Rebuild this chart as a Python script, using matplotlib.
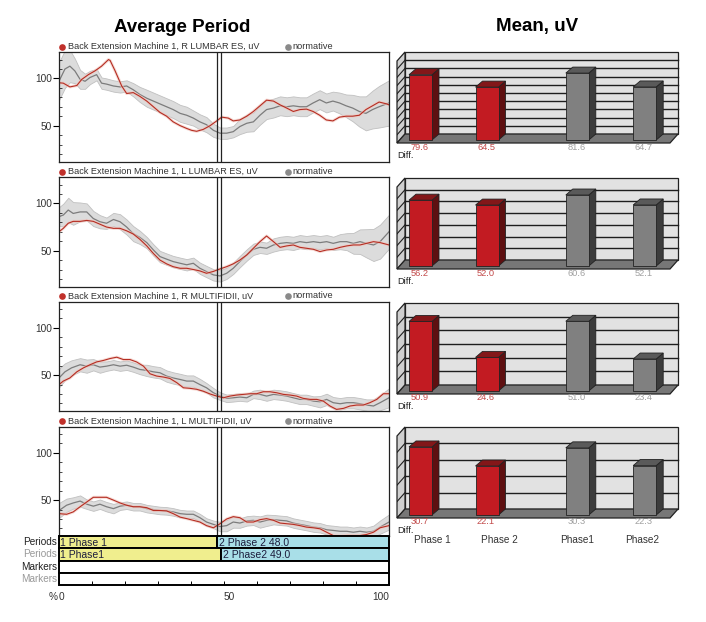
import matplotlib
matplotlib.use('Agg')
import matplotlib.pyplot as plt
from matplotlib.patches import Polygon, Rectangle
from matplotlib.lines import Line2D
import numpy as np

# ---------------- data ----------------
titles = ["Average Period", "Mean, uV"]
channel_labels = [
    "Back Extension Machine 1, R LUMBAR ES, uV",
    "Back Extension Machine 1, L LUMBAR ES, uV",
    "Back Extension Machine 1, R MULTIFIDII, uV",
    "Back Extension Machine 1, L MULTIFIDII, uV",
]
normative_label = "normative"

S = [6.4, 8.4, 10.4, 12.4, 14.4, 16.5, 18.5, 20.5, 22.5, 24.5, 26.6, 28.6, 30.6, 32.6, 34.6,
     36.7, 38.7, 40.7, 42.7, 44.7, 46.8, 48.8, 50.8, 52.8, 54.8, 56.9, 58.9, 60.9, 62.9, 65.0,
     67.0, 69.0, 71.0, 73.0, 75.0, 77.1, 79.1, 81.1, 83.1, 85.2, 87.2, 89.2, 91.2, 93.2, 95.3, 97.3]
S3 = [3.3, 5.4, 7.4, 9.4, 11.4, 13.4, 15.5, 17.5, 19.5, 21.5, 23.5, 25.6, 27.6, 29.6, 31.6, 33.6,
      35.7, 37.7, 39.7, 41.7, 43.7, 45.8, 47.8, 49.8, 51.8, 53.8, 55.9, 57.9, 59.9, 61.9, 63.9,
      66.0, 68.0, 70.0, 72.0, 74.0, 76.1, 78.1, 80.1, 82.1, 84.1, 86.2, 88.2, 90.2, 92.2, 94.2,
      96.3, 98.3]

# panel 1 (R LUMBAR ES)
red1_x = [0, 1.3, 3.3, 5.4, 6.9, 8.9, 10.9, 12.9, 15.0, 15.5, 17.0, 19.0, 20.5, 22.5, 24.5, 26.6,
          28.6, 30.6, 32.6, 34.6, 36.7, 38.7, 40.2, 41.7, 43.7, 45.8, 47.8, 49.3, 51.3, 52.8, 54.8,
          56.9, 58.9, 60.9, 62.9, 65.0, 67.0, 69.0, 71.0, 73.0, 75.0, 77.0, 79.0, 81.0, 83.0, 85.0,
          87.0, 89.0, 91.0, 93.0, 95.0, 97.0, 99.3, 100]
red1_v = [95.4, 95, 91, 92.5, 99, 104, 108, 113, 120, 119, 108, 92, 84, 85, 81, 76, 70, 64, 60, 54,
          50, 47, 45, 44, 46, 50, 55, 59, 58, 55, 56, 60, 65, 71, 77, 76, 72, 68.6, 65, 67, 67.5, 65,
          61, 56, 55, 59, 60, 60, 61, 67, 71, 75, 73, 72]
gray1_x = [0, 1.8, 3.3, 4.8, 6.4, 7.9, 9.4, 11.4, 12.9, 14.4, 16.5, 18.5, 20.5, 22.5, 24.5, 26.6,
           28.6, 30.6, 32.6, 34.6, 36.7, 38.7, 40.7, 42.7, 44.7, 46.8, 48.8, 50.8, 52.8, 54.8, 56.9,
           58.9, 60.9, 62.9, 65.0, 67.0, 69.0, 71.0, 73.0, 75.0, 77.0, 79.0, 81.0, 83.0, 85.0, 87.0,
           89.0, 91.0, 93.0, 95.0, 97.0, 100]
gray1_v = [97, 110, 113, 108, 99, 97, 101, 104, 95, 94, 92, 91, 92, 88, 83, 79, 76, 73, 70, 67, 63,
           61, 58, 54, 51, 45, 42, 42, 43.6, 49, 52.5, 54, 61, 67, 68.6, 71, 70, 71, 70, 70, 74, 77.5,
           74, 76, 74, 71, 68.6, 65, 63, 67, 70, 74]
spread1 = [20, 20, 17, 13, 10, 8, 7, 6, 6, 6, 6, 6, 6, 7, 8, 9, 9, 9, 9, 9, 9, 9, 8, 8, 8, 7, 6, 6,
           6, 8, 9, 10, 10, 10, 10, 10, 10, 10, 10, 10, 10, 10, 10, 10, 11, 12, 14, 16, 18, 20, 22, 24]

# panel 2 (L LUMBAR ES)
red2_x = [0, 1.3, 2.8, 4.3, 6.4, 8.4, 10.4, 12.4, 14.4, 16.5, 18.5, 20.5, 22.5, 24.5, 26.6, 28.6,
          30.6, 32.6, 34.6, 36.7, 38.7, 40.7, 42.7, 44.7, 46.8, 48.3, 50.8, 52.8, 54.8, 56.9, 58.9,
          60.9, 62.9, 65.0, 67.0, 69.0, 71.0, 73.0, 75.0, 77.1, 79.1, 81.1, 83.1, 85.2, 87.2, 89.2,
          91.2, 93.2, 95.3, 97.3, 100]
red2_v = [70, 73.6, 79, 81, 81, 82, 81, 78, 75, 73.6, 73.6, 71, 67.6, 62, 55, 47, 40, 36, 33, 31.3,
          31.3, 30, 28.5, 26, 28, 30, 33, 36, 40, 45.4, 52.5, 59.5, 65.5, 59.5, 53.5, 55, 56, 53.5,
          52.5, 51.4, 49, 50.7, 51.4, 53.5, 55, 56, 56, 57.7, 59.5, 58.5, 56]
gray2_x = [0, 1.3, 2.8, 4.3] + S + [100]
gray2_v = [86, 87.7, 93, 89.4, 91, 91, 84, 80.6, 79, 83, 80.6, 75, 68, 64, 58.5, 50.7, 43.7, 41,
           38.4, 36.6, 35, 36.6, 31.3, 27.8, 24.3, 23.2, 26, 31.3, 38.4, 45.4, 51.4, 53.5, 52.5, 56,
           57.7, 58.5, 57.7, 59.5, 58.5, 59.5, 58.5, 59.5, 57.7, 59.5, 59.5, 57.7, 59.5, 57.7, 56,
           59.5, 70]
spread2 = [10, 12, 13, 12, 10, 9, 8, 7, 6, 7, 8, 8, 8, 7, 6, 6, 6, 6, 6, 6, 6, 6, 6, 6, 6, 6, 6, 6,
           6, 6, 6, 6, 6, 7, 7, 7, 7, 7, 7, 7, 7, 7, 7, 8, 9, 11, 13, 15, 17, 18, 18]

# panel 3 (R MULTIFIDII)
red3_x = [0, 1.3] + S3 + [100]
red3_v = [40, 43.7, 47, 53.5, 57.7, 61, 64, 65.5, 67.6, 69, 66.5, 66.5, 64, 59.5, 51.4, 49, 48,
          46.5, 42, 36.6, 36, 35, 33, 30, 27.8, 26, 27.8, 28.9, 29.6, 30.3, 30.3, 32.4, 32.4, 31.3,
          29.6, 28.9, 27.8, 25.4, 24.3, 24.3, 22.5, 17.3, 13.7, 14.8, 17.3, 18.3, 18.3, 20.8, 24.3,
          30.3, 30.3]
gray3_x = [0, 1.8, 3.8] + S + [100]
gray3_v = [47, 53.5, 57.7, 61, 59.5, 61, 58.5, 59.5, 61, 59.5, 60.5, 58.5, 56, 55, 53.5, 52.5, 49,
           47, 45.4, 43.7, 43.7, 40, 36.6, 31.3, 27.8, 25.4, 26, 26.8, 26, 29.6, 29.6, 27.8, 29.6,
           28.9, 27.8, 26, 24.3, 24.3, 22.5, 21.8, 24.3, 20.8, 19.7, 20.8, 20.8, 19.7, 18.3, 17.3,
           20.8, 26]
spread3 = [10, 9, 8, 7, 7, 6, 6, 5, 5, 5, 5, 5, 5, 6, 6, 6, 6, 6, 6, 6, 6, 6, 5, 5, 4, 4, 4, 4, 4,
           4, 5, 5, 5, 5, 5, 5, 5, 5, 5, 6, 6, 6, 6, 6, 6, 6, 6, 7, 8, 10]

# panel 4 (L MULTIFIDII)
red4_x = [0, 2.3, 4.3] + S + [100]
red4_v = [35.7, 35, 37.5, 43, 48, 53, 53, 53, 50, 47, 44.6, 43, 43, 42, 39, 39, 38.6, 35.7, 32,
          30.4, 28.6, 26.8, 23, 20.7, 25, 30, 32.5, 31.4, 26.8, 26.8, 29.3, 30.4, 28.6, 25.7, 25,
          24.3, 23, 21.4, 20.7, 19.6, 16, 12.5, 11.8, 12.5, 12.5, 12.5, 13.6, 16, 20.7, 23]
gray4_x = [0, 2.3, 4.3] + S + [100]
gray4_v = [39, 44.6, 47, 49, 45.7, 43.6, 45.7, 43, 41, 43.6, 44.6, 43, 43, 41, 40, 39, 38.6, 37.5,
           35.7, 35, 35, 31.4, 26.8, 24.3, 22, 23, 26.8, 25.7, 28, 28.6, 26.8, 28.6, 29.3, 28.6, 28,
           25.7, 24.3, 23, 21.4, 20.7, 18.6, 17.9, 17, 17, 16, 17, 16, 17, 21.4, 26.8]
spread4 = [8, 7, 6, 6, 5, 5, 5, 5, 5, 4, 4, 4, 4, 4, 4, 4, 4, 4, 4, 4, 4, 4, 4, 4, 5, 6, 6, 5, 5,
           5, 6, 6, 5, 5, 5, 5, 5, 5, 5, 5, 5, 5, 5, 5, 5, 5, 5, 6, 7, 8]

red_x = [red1_x, red2_x, red3_x, red4_x]
red_v = [red1_v, red2_v, red3_v, red4_v]
gray_x = [gray1_x, gray2_x, gray3_x, gray4_x]
gray_v = [gray1_v, gray2_v, gray3_v, gray4_v]
spreads = [spread1, spread2, spread3, spread4]

period_starts = [48.0, 49.0]
period_rows = [
    [(0, 48.0, "1 Phase 1"), (48.0, 100, "2 Phase 2 48.0")],
    [(0, 49.0, "1 Phase1"), (49.0, 100, "2 Phase2 49.0")],
]
row_labels = ["Periods", "Periods", "Markers", "Markers"]

bar_categories = ["Phase 1", "Phase 2", "Phase1", "Phase2"]
bar_values = [
    [79.6, 64.5, 81.6, 64.7],
    [56.2, 52.0, 60.6, 52.1],
    [50.9, 24.6, 51.0, 23.4],
    [30.7, 22.1, 30.3, 22.3],
]
bar_axis_max = [100, 70, 60, 37]
bar_divisions = [10, 7, 6, 5]

# ---------------- figure ----------------
W, H = 706, 622
fig = plt.figure(figsize=(W / 100, H / 100), dpi=100)
plt.rcParams['font.family'] = ['Liberation Sans', 'DejaVu Sans']


def add_ax(x0, y0, x1, y1):
    return fig.add_axes([x0 / W, 1 - y1 / H, (x1 - x0) / W, (y1 - y0) / H])


def ftext(x, y, s, **kw):
    return fig.text(x / W, 1 - y / H, s, **kw)


def fdot(x, y, color, size=4.8):
    fig.add_artist(Line2D([x / W], [1 - y / H], marker='o', markersize=size, color=color,
                          markeredgewidth=0, transform=fig.transFigure))


RED = '#b52d22'
ftext(182, 27, titles[0], ha='center', va='center', fontsize=13.5, fontweight='bold')
ftext(537, 27, titles[1], ha='center', va='center', fontsize=13.5, fontweight='bold')

# ---- line panels ----
panel_tops = [52, 177, 301.5, 426.5]
panel_h = 109.5
for i in range(4):
    top = panel_tops[i]
    ax = add_ax(59, top, 389, top + panel_h)
    g = np.array(gray_v[i], dtype=float)
    s = np.array(spreads[i], dtype=float)
    ax.fill_between(gray_x[i], g - s, g + s, facecolor='#dcdcdc', edgecolor='#c0c0c0', lw=0.6)
    ax.plot(gray_x[i], g, color='#7c7c7c', lw=0.9)
    ax.plot(red_x[i], red_v[i], color='#f1c4bc', lw=2.2, alpha=0.6, solid_capstyle='round')
    ax.plot(red_x[i], red_v[i], color=RED, lw=0.8)
    for b in period_starts:
        ax.axvline(b, color='#222222', lw=0.9)
    ax.set_xlim(0, 100)
    ax.set_ylim(12, 128)
    ax.set_xticks([])
    ax.set_yticks([50, 100])
    ax.set_yticks(list(range(20, 130, 10)), minor=True)
    ax.tick_params(axis='y', which='major', direction='out', length=4, width=0.8,
                   labelsize=7.3, labelcolor='#333333', pad=1)
    ax.tick_params(axis='y', which='minor', direction='in', length=1.8, width=0.5)
    for sp in ax.spines.values():
        sp.set_linewidth(0.9)
        sp.set_color('#222222')
    ly = top - 5.5
    fdot(62.5, ly, '#c0302a')
    ftext(67.5, ly, channel_labels[i], ha='left', va='center', fontsize=6.6, color='#333333')
    fdot(287.5, ly, '#8a8a8a')
    ftext(292, ly, normative_label, ha='left', va='center', fontsize=6.6, color='#333333')

# ---- periods / markers rows ----
pax = add_ax(59, 536, 389, 585)
pax.set_xlim(0, 100)
pax.set_ylim(4, 0)
colors_seg = ['#f0ee8e', '#a9dfe8']
for r, segs in enumerate(period_rows):
    for j, (x0, x1, lab) in enumerate(segs):
        pax.add_patch(Rectangle((x0, r), x1 - x0, 1, facecolor=colors_seg[j], edgecolor='black',
                                lw=1.4, clip_on=False))
        pax.text(x0 + 0.4 + 0.3 * r * j, r + 0.55, lab, ha='left', va='center', fontsize=7.5,
                 color='#1c1c3c')
for r in range(2, 4):
    pax.add_patch(Rectangle((0, r), 100, 1, facecolor='white', edgecolor='black', lw=1.4,
                            clip_on=False))
for sp in pax.spines.values():
    sp.set_visible(False)
pax.set_yticks([])
pax.set_xticks([0, 50, 100])
pax.set_xticks(list(range(0, 101, 10)), minor=True)
pax.tick_params(axis='x', which='both', direction='in', length=3, width=0.7,
                labelsize=7.3, labelcolor='#333333', pad=5)
labs = pax.get_xticklabels()
labs[0].set_ha('left')
labs[1].set_ha('left')
labs[2].set_ha('right')
ftext(48.5, 597, '%', ha='left', va='center', fontsize=7.3, color='#333333')
row_cols = ['#222222', '#999999', '#222222', '#999999']
for r, lab in enumerate(row_labels):
    ftext(57, 542 + 12.25 * r, lab, ha='right', va='center', fontsize=7.2, color=row_cols[r])

# ---- pseudo-3D bar charts ----
bar_tops = [52, 178, 303, 427]
bar_centers = [23.5, 90, 180.3, 247.7]
WALL = 82.0
face = {'red': ('#c21b22', '#5e1011', '#831719'), 'gray': ('#808080', '#3c3c3c', '#5a5a5a')}
lab_cols = {'red': '#c24a4a', 'gray': '#a0a0a0'}
kinds = ['red', 'red', 'gray', 'gray']
for i in range(4):
    T = bar_tops[i]
    ax = add_ax(397, T, 680, T + 91)
    ymax = bar_axis_max[i]
    k = WALL / ymax
    d = 6.0 / k
    f = 3.0 / k
    ax.set_xlim(0, 283)
    ax.set_ylim(-f, 88.0 / k)
    ax.axis('off')
    ax.add_patch(Rectangle((8, d), 273, ymax, facecolor='#e2e2e2', edgecolor='#222222', lw=0.9,
                           clip_on=False, zorder=1))
    ax.add_patch(Polygon([(0, -f), (8, d), (8, ymax + d), (0, ymax - f)], closed=True,
                         facecolor='#cfcfcf', edgecolor='#222222', lw=0.9, clip_on=False, zorder=1))
    for j in range(1, bar_divisions[i]):
        v = ymax * j / bar_divisions[i]
        ax.plot([8, 281], [v + d, v + d], color='#1e1e1e', lw=1.0, zorder=2)
        ax.plot([0, 8], [v - f, v + d], color='#1e1e1e', lw=0.8, zorder=2)
    ax.add_patch(Polygon([(0, -f), (273, -f), (281, d), (8, d)], closed=True, facecolor='#777777',
                         edgecolor='#222222', lw=0.9, clip_on=False, zorder=3))
    for c, v, kd in zip(bar_centers, bar_values[i], kinds):
        fc, sc, tc = face[kd]
        ax.add_patch(Polygon([(c + 11.5, 0), (c + 18.5, d), (c + 18.5, v + d), (c + 11.5, v)],
                             closed=True, facecolor=sc, edgecolor='#222222', lw=0.6, zorder=4))
        ax.add_patch(Polygon([(c - 11.5, v), (c - 4.5, v + d), (c + 18.5, v + d), (c + 11.5, v)],
                             closed=True, facecolor=tc, edgecolor='#222222', lw=0.6, zorder=4))
        ax.add_patch(Rectangle((c - 11.5, 0), 23, v, facecolor=fc, edgecolor='#222222', lw=0.6,
                               zorder=5))
        ax.text(c - 1, -f - 4.0 / k, f"{v:.1f}", ha='center', va='center', fontsize=6.7,
                color=lab_cols[kd], clip_on=False)
    ftext(397, T + 103.5, 'Diff.', ha='left', va='center', fontsize=6.7, color='#222222')

phase_label_x = [432.7, 499, 576.7, 641.7]
for x, lab in zip(phase_label_x, bar_categories):
    ftext(x, 540, lab, ha='center', va='center', fontsize=7.2, color='#333333')

fig.savefig('out.png', dpi=100)
